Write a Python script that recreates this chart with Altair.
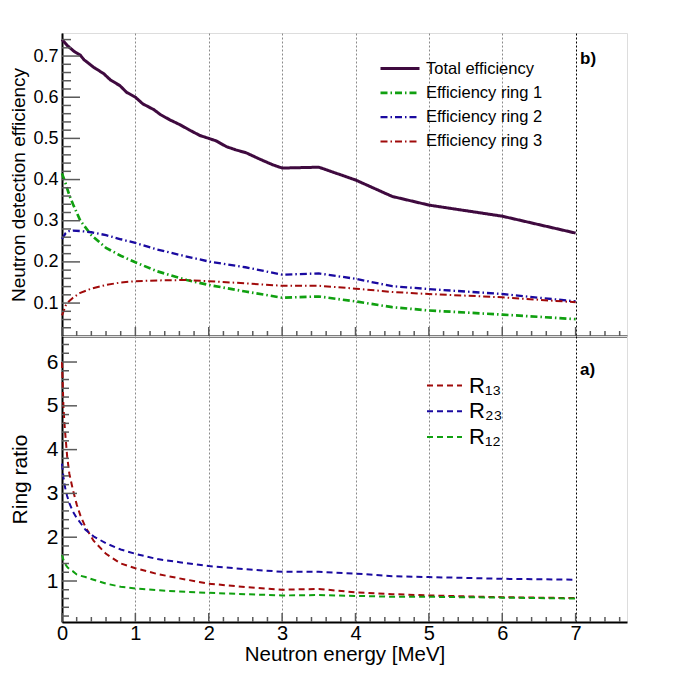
import altair as alt
import pandas as pd

# ---------------- data ----------------
# panel b) total efficiency
E_total = [0, 0.07, 0.16, 0.25, 0.3, 0.43, 0.57, 0.66, 0.79, 0.88, 1.0, 1.1, 1.25, 1.34,
           1.47, 1.61, 1.74, 1.88, 2.0, 2.1, 2.24, 2.37, 2.51, 2.69, 2.87, 3.0, 3.5, 4.0,
           4.5, 5.0, 6.0, 7.0]
total_eff = [0.740, 0.726, 0.712, 0.702, 0.691, 0.673, 0.657, 0.642, 0.628, 0.612, 0.600,
             0.584, 0.570, 0.558, 0.545, 0.533, 0.520, 0.507, 0.500, 0.494, 0.480, 0.472,
             0.465, 0.450, 0.436, 0.428, 0.430, 0.399, 0.359, 0.338, 0.311, 0.270]

# panel b) ring efficiencies
E_ring = [0, 0.05, 0.1, 0.15, 0.25, 0.4, 0.6, 0.8, 1.0, 1.3, 1.7, 2.0, 2.5, 3.0, 3.5, 4.0,
          4.5, 5.0, 6.0, 7.0]
ring1 = [0.415, 0.390, 0.362, 0.340, 0.300, 0.265, 0.234, 0.215, 0.199, 0.177, 0.156, 0.144,
         0.128, 0.113, 0.116, 0.104, 0.090, 0.082, 0.072, 0.061]
ring2 = [0.256, 0.270, 0.275, 0.276, 0.275, 0.272, 0.265, 0.255, 0.246, 0.230, 0.213, 0.201,
         0.187, 0.169, 0.172, 0.159, 0.141, 0.134, 0.122, 0.104]
ring3 = [0.070, 0.094, 0.105, 0.113, 0.125, 0.135, 0.144, 0.150, 0.153, 0.155, 0.156, 0.153,
         0.148, 0.142, 0.142, 0.135, 0.127, 0.122, 0.114, 0.102]

# panel a) ring ratios
E_ratio = [0, 0.02, 0.04, 0.07, 0.1, 0.15, 0.2, 0.25, 0.32, 0.43, 0.6, 0.8, 1.0, 1.3, 1.6,
           2.0, 2.5, 3.0, 3.5, 4.0, 4.5, 5.0, 6.0, 7.0]
R13 = [6.00, 4.97, 4.45, 3.85, 3.45, 3.07, 2.75, 2.50, 2.23, 1.92, 1.62, 1.40, 1.29, 1.16,
       1.06, 0.94, 0.86, 0.80, 0.82, 0.74, 0.70, 0.67, 0.63, 0.61]
R23 = [3.68, 3.37, 3.15, 2.94, 2.78, 2.58, 2.44, 2.33, 2.17, 2.02, 1.86, 1.72, 1.62, 1.50,
       1.43, 1.34, 1.27, 1.21, 1.21, 1.17, 1.11, 1.09, 1.05, 1.03]
R12 = [1.60, 1.48, 1.40, 1.32, 1.27, 1.22, 1.15, 1.12, 1.09, 1.03, 0.94, 0.87, 0.83, 0.79,
       0.76, 0.73, 0.70, 0.67, 0.68, 0.66, 0.64, 0.64, 0.62, 0.60]

eff_names = ["Total efficiency", "Efficiency ring 1", "Efficiency ring 2", "Efficiency ring 3"]
eff_colors = ["#3f0a3f", "#10a010", "#1a0aa0", "#a00a0a"]
ratio_names = ["R\u2081\u2083", "R\u2082\u2083", "R\u2081\u2082"]
ratio_colors = ["#a00a0a", "#1a0aa0", "#10a010"]
panel_labels = ["b)", "a)"]

# axis furniture (tick positions)
x_major = [0, 1, 2, 3, 4, 5, 6, 7]
x_minor = [round(0.2 * i, 1) for i in range(1, 39) if i % 5 != 0]
yb_major = [0.1, 0.2, 0.3, 0.4, 0.5, 0.6, 0.7]
yb_minor = [round(0.02 * i, 2) for i in range(2, 38) if i % 5 != 0]
ya_major = [1, 2, 3, 4, 5, 6]
ya_minor = [round(0.2 * i, 1) for i in range(1, 33) if i % 5 != 0]

# ---------------- tables ----------------
eff_df = pd.concat([
    pd.DataFrame({"E": E_total, "eff": total_eff, "series": eff_names[0]}),
    pd.DataFrame({"E": E_ring, "eff": ring1, "series": eff_names[1]}),
    pd.DataFrame({"E": E_ring, "eff": ring2, "series": eff_names[2]}),
    pd.DataFrame({"E": E_ring, "eff": ring3, "series": eff_names[3]}),
], ignore_index=True)

ratio_df = pd.concat([
    pd.DataFrame({"E": E_ratio, "r": R13, "ratio": ratio_names[0]}),
    pd.DataFrame({"E": E_ratio, "r": R23, "ratio": ratio_names[1]}),
    pd.DataFrame({"E": E_ratio, "r": R12, "ratio": ratio_names[2]}),
], ignore_index=True)

FONT = "Liberation Sans"
W = 565
HB = 303
HA = 286
XMAX = 7.7
YB = [0.02, 0.756]
YA = [0.064, 6.594]
PX_X = W / XMAX
PX_YB = HB / (YB[1] - YB[0])
PX_YA = HA / (YA[1] - YA[0])
TICK = "#5a5a5a"

xscale = alt.Scale(domain=[0, XMAX], nice=False, zero=False)
grid_color = {"condition": {"test": "datum.value === 7", "value": "#000000"}, "value": "#8a8a8a"}

x_axis_top = alt.Axis(values=x_major, labels=False, ticks=False, title=None,
                      domainColor="black", domainWidth=2, grid=True, gridDash=[2, 2],
                      gridColor=grid_color, gridWidth=1)
x_axis_bot = alt.Axis(values=x_major, format="d", labels=True, labelFlush=False, ticks=False,
                      title="Neutron energy [MeV]",
                      domainColor="black", domainWidth=2, grid=True, gridDash=[2, 2],
                      gridColor=grid_color, gridWidth=1, labelFont=FONT, labelFontSize=20,
                      labelColor="black", labelPadding=1, titleFont=FONT, titleFontSize=20.5,
                      titleFontWeight="normal", titleColor="black", titlePadding=1)

yb_axis = alt.Axis(values=yb_major, format=".1f", ticks=False, grid=False, labelFlush=False,
                   domainColor="black", domainWidth=2, labelFont=FONT, labelFontSize=18,
                   labelColor="black", labelPadding=4, title="Neutron detection efficiency",
                   titleFont=FONT, titleFontSize=19, titleFontWeight="normal",
                   titleColor="black", titlePadding=4)
ya_axis = alt.Axis(values=ya_major, format="d", ticks=False, grid=False, labelFlush=False,
                   domainColor="black", domainWidth=2, labelFont=FONT, labelFontSize=21,
                   labelColor="black", labelPadding=4, title="Ring ratio",
                   titleFont=FONT, titleFontSize=21, titleFontWeight="normal",
                   titleColor="black", titlePadding=16)


def tick_rules(yfield, y_major, y_minor, y_dom, px_y, maj_len, min_len):
    """Inward ROOT-style ticks, placed through the panel's own (shared) scales."""
    ym = alt.Chart(pd.DataFrame({yfield: y_major})).mark_rule(color=TICK, strokeWidth=1.5).encode(
        y=f"{yfield}:Q", x=alt.datum(0), x2=alt.datum(maj_len / PX_X))
    yn = alt.Chart(pd.DataFrame({yfield: y_minor})).mark_rule(color=TICK, strokeWidth=1.5).encode(
        y=f"{yfield}:Q", x=alt.datum(0), x2=alt.datum(min_len / PX_X))
    xm = alt.Chart(pd.DataFrame({"E": x_major})).mark_rule(color=TICK, strokeWidth=1.5).encode(
        x="E:Q", y=alt.datum(y_dom[0]), y2=alt.datum(y_dom[0] + 9 / px_y))
    xn = alt.Chart(pd.DataFrame({"E": x_minor})).mark_rule(color=TICK, strokeWidth=1.5).encode(
        x="E:Q", y=alt.datum(y_dom[0]), y2=alt.datum(y_dom[0] + 5 / px_y))
    return [ym, yn, xm, xn]


# ---------------- panel b) ----------------
eff_legend = alt.Legend(orient="none", legendX=317, legendY=25.5, title=None,
                        symbolType="stroke", symbolSize=1521, labelFont=FONT,
                        labelFontSize=16.5, labelColor="black", labelOffset=5,
                        clipHeight=20, rowPadding=4.3, labelLimit=300)

eff_lines = alt.Chart(eff_df).mark_line().encode(
    x=alt.X("E:Q", scale=xscale, axis=x_axis_top),
    y=alt.Y("eff:Q", scale=alt.Scale(domain=YB, nice=False, zero=False), axis=yb_axis),
    color=alt.Color("series:N", scale=alt.Scale(domain=eff_names, range=eff_colors),
                    legend=eff_legend),
    strokeDash=alt.StrokeDash("series:N", scale=alt.Scale(
        domain=eff_names, range=[[1, 0], [7, 3, 1.5, 3], [7, 3, 1.5, 3], [7, 3, 1.5, 3]]),
        legend=eff_legend),
    strokeWidth=alt.StrokeWidth("series:N", scale=alt.Scale(domain=eff_names, range=[3, 2, 2, 2]),
                                legend=eff_legend),
    order="E:Q",
)

label_b = alt.Chart(pd.DataFrame({"lab": [panel_labels[0]]})).mark_text(
    align="left", baseline="middle", font=FONT, fontSize=17, fontWeight="bold", color="black"
).encode(x=alt.datum(7.06), y=alt.datum(0.693), text="lab:N")

top = alt.layer(
    eff_lines, *tick_rules("eff", yb_major, yb_minor, YB, PX_YB, 18, 9), label_b
).properties(width=W, height=HB)

# ---------------- panel a) ----------------
ratio_legend = alt.Legend(orient="none", legendX=364, legendY=38.5, title=None,
                          symbolType="stroke", symbolSize=1225, symbolDash=[6, 4],
                          symbolStrokeWidth=2, labelFont=FONT, labelFontSize=22,
                          labelColor="black", labelOffset=6, clipHeight=22, rowPadding=3.8)

ratio_lines = alt.Chart(ratio_df).mark_line(strokeDash=[6, 4], strokeWidth=2).encode(
    x=alt.X("E:Q", scale=xscale, axis=x_axis_bot),
    y=alt.Y("r:Q", scale=alt.Scale(domain=YA, nice=False, zero=False), axis=ya_axis),
    color=alt.Color("ratio:N", scale=alt.Scale(domain=ratio_names, range=ratio_colors),
                    legend=ratio_legend, sort=ratio_names),
    order="E:Q",
)

label_a = alt.Chart(pd.DataFrame({"lab": [panel_labels[1]]})).mark_text(
    align="left", baseline="middle", font=FONT, fontSize=17, fontWeight="bold", color="black"
).encode(x=alt.datum(7.06), y=alt.datum(5.82), text="lab:N")

bottom = alt.layer(
    ratio_lines, *tick_rules("r", ya_major, ya_minor, YA, PX_YA, 15, 7), label_a
).properties(width=W, height=HA)

chart = alt.vconcat(top, bottom, spacing=0, bounds="flush").resolve_scale(
    color="independent", strokeDash="independent", strokeWidth="independent"
).properties(
    padding={"left": 0, "top": 24, "right": 5, "bottom": 5}
).configure_view(stroke="#8a8a8a", strokeWidth=1).configure_axisLeft(
    titleFontSize=21, titleFont=FONT
).configure(background="white")

chart.save("out.html", embed_options={"renderer": "svg", "actions": False})
